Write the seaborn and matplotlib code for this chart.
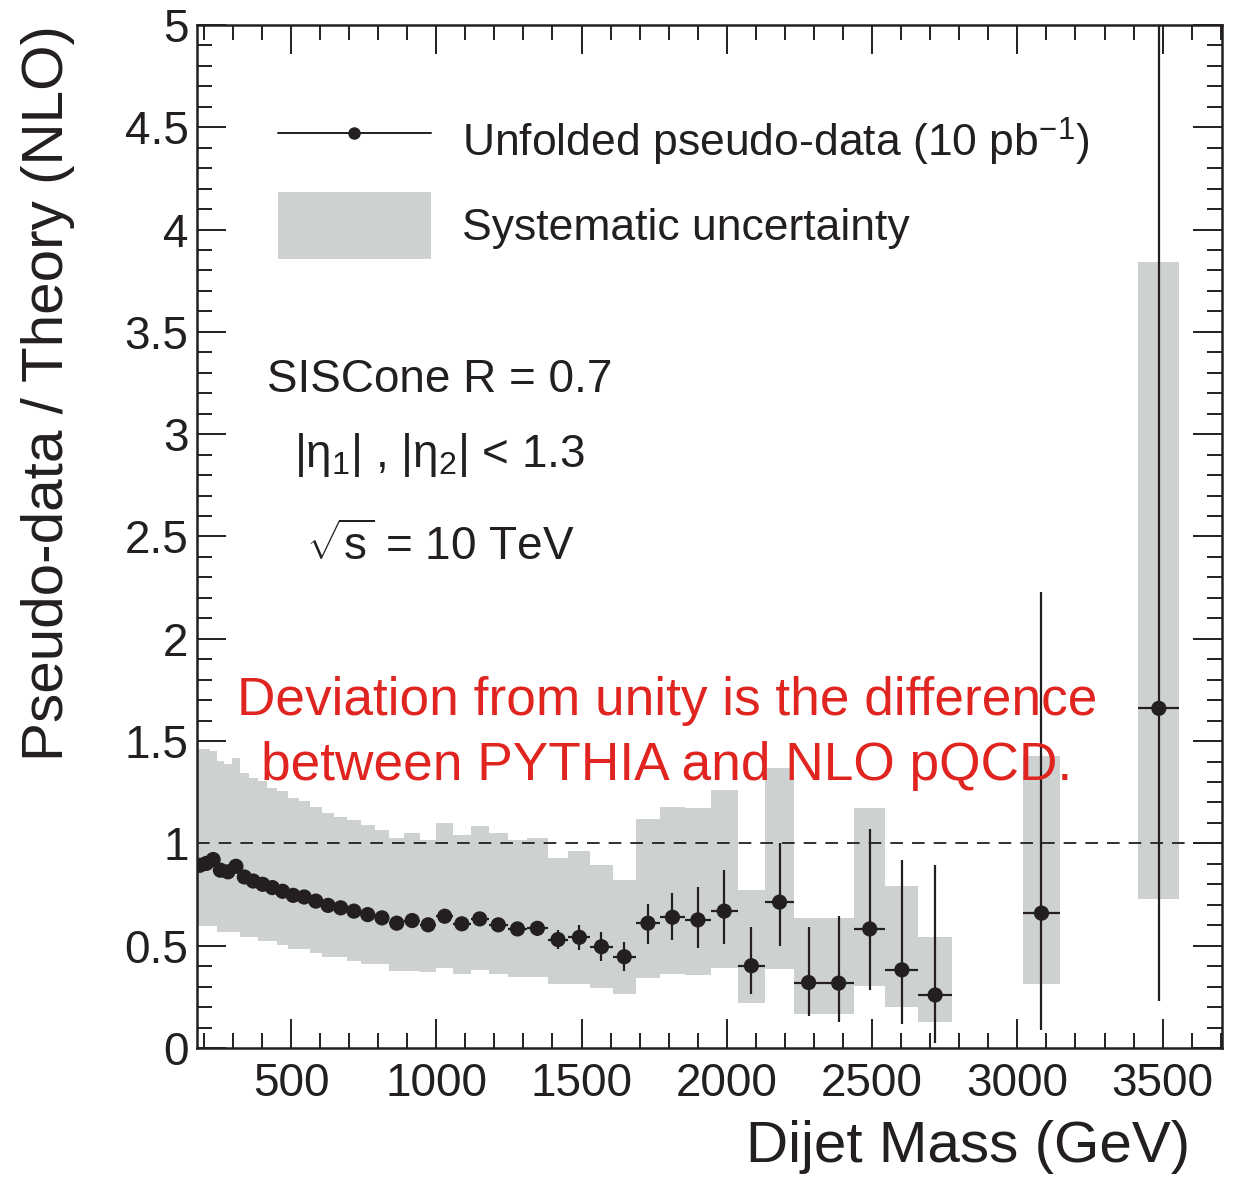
import numpy as np
import matplotlib
matplotlib.use("Agg")
import matplotlib.pyplot as plt
from matplotlib.ticker import MultipleLocator, FuncFormatter
from matplotlib.lines import Line2D
from matplotlib.patches import Patch
import seaborn as sns

# ---------------- data ----------------
bin_edges = [176, 197, 220, 244, 270, 296, 325, 354, 386, 419, 453, 489, 526, 565,
             606, 649, 693, 740, 788, 838, 890, 944, 1000, 1058, 1118, 1181, 1246,
             1313, 1383, 1455, 1530, 1607, 1687, 1770, 1856, 1945, 2037, 2132, 2231,
             2332, 2438, 2546, 2659, 2775, 2895, 3019, 3147, 3279, 3416, 3558, 3704]

nan = np.nan
ratio = [0.893, 0.902, 0.921, 0.869, 0.861, 0.888, 0.836, 0.816, 0.800, 0.784,
         0.766, 0.746, 0.738, 0.718, 0.697, 0.685, 0.669, 0.652, 0.636, 0.610,
         0.623, 0.602, 0.644, 0.607, 0.631, 0.602, 0.582, 0.585, 0.530, 0.541,
         0.495, 0.446, 0.610, 0.639, 0.626, 0.669, 0.402, 0.713, 0.320, 0.317,
         0.582, 0.382, 0.259, nan, nan, 0.659, nan, nan, 1.660, nan]

err_up = [0.01, 0.01, 0.01, 0.01, 0.01, 0.01, 0.01, 0.01, 0.01, 0.01,
          0.012, 0.012, 0.013, 0.013, 0.014, 0.014, 0.015, 0.015, 0.016, 0.016,
          0.02, 0.02, 0.02, 0.02, 0.022, 0.022, 0.025, 0.037, 0.047, 0.06,
          0.072, 0.071, 0.095, 0.118, 0.161, 0.203, 0.188, 0.287, 0.270, 0.326,
          0.487, 0.539, 0.634, nan, nan, 1.571, nan, nan, 3.6, nan]

err_down = [0.01, 0.01, 0.01, 0.01, 0.01, 0.01, 0.01, 0.01, 0.01, 0.01,
            0.012, 0.012, 0.013, 0.013, 0.014, 0.014, 0.015, 0.015, 0.016, 0.016,
            0.02, 0.02, 0.02, 0.02, 0.022, 0.022, 0.025, 0.037, 0.047, 0.06,
            0.072, 0.071, 0.102, 0.111, 0.137, 0.161, 0.140, 0.216, 0.164, 0.191,
            0.300, 0.267, 0.234, nan, nan, 0.569, nan, nan, 1.43, nan]

syst_high = [1.459, 1.459, 1.450, 1.401, 1.388, 1.418, 1.344, 1.320, 1.303, 1.270,
             1.254, 1.221, 1.205, 1.180, 1.147, 1.131, 1.115, 1.090, 1.065, 1.025,
             1.049, 1.016, 1.098, 1.041, 1.087, 1.049, 1.016, 1.028, 0.931, 0.964,
             0.893, 0.820, 1.118, 1.180, 1.172, 1.262, 0.770, 1.369, 0.634, 0.634,
             1.172, 0.790, 0.541, nan, nan, 1.429, nan, nan, 3.843, nan]

syst_low = [0.595, 0.595, 0.595, 0.569, 0.569, 0.569, 0.541, 0.541, 0.525, 0.525,
            0.503, 0.483, 0.483, 0.462, 0.443, 0.443, 0.426, 0.410, 0.410, 0.377,
            0.377, 0.369, 0.393, 0.364, 0.381, 0.364, 0.348, 0.348, 0.312, 0.312,
            0.295, 0.262, 0.344, 0.361, 0.356, 0.390, 0.221, 0.385, 0.167, 0.167,
            0.303, 0.200, 0.128, nan, nan, 0.315, nan, nan, 0.730, nan]

x_ticks_major = 500
y_ticks_major = 0.5
x_range = (176, 3704)
y_range = (0, 5)

legend_labels = ["Unfolded pseudo-data (10 pb$^{-1}$)", "Systematic uncertainty"]
x_label = "Dijet Mass (GeV)"
y_label = "Pseudo-data / Theory (NLO)"
note_lines = ["SISCone R = 0.7", r"$|\eta_1|$ , $|\eta_2|$ < 1.3", r"$\sqrt{s}$ = 10 TeV"]
red_lines = ["Deviation from unity is the difference", "between PYTHIA and NLO pQCD."]

# ---------------- style ----------------
sns.set_theme(style="ticks")
plt.rcParams["font.family"] = ["Liberation Sans", "DejaVu Sans"]
plt.rcParams["mathtext.fontset"] = "custom"
plt.rcParams["mathtext.rm"] = "Liberation Sans"
plt.rcParams["mathtext.it"] = "Liberation Sans"
plt.rcParams["mathtext.bf"] = "Liberation Sans:bold"

ink = "#231f20"
band_color = "#cdd1d2"
red = "#e02420"

edges = np.array(bin_edges, dtype=float)
lo = edges[:-1]
hi = edges[1:]
centers = 0.5 * (lo + hi)
halfw = 0.5 * (hi - lo)
ratio = np.array(ratio)
eu = np.array(err_up)
ed = np.array(err_down)
sh = np.array(syst_high)
sl = np.array(syst_low)

fig = plt.figure(figsize=(12.38, 11.77), dpi=100)
ax = fig.add_axes([0.159, 0.1096, 0.828, 0.8692])

# systematic band
bm = ~np.isnan(sh)
ax.bar(lo[bm], (sh - sl)[bm], width=(hi - lo)[bm], bottom=sl[bm], align="edge",
       color=band_color, linewidth=0, zorder=1)

# unity line
ax.axhline(1.0, color=ink, lw=1.3, ls=(0, (7, 5)), zorder=2)

# points with errors
pm = ~np.isnan(ratio)
ax.errorbar(centers[pm], ratio[pm], yerr=[ed[pm], eu[pm]], xerr=halfw[pm],
            fmt="none", ecolor=ink, elinewidth=1.6, capsize=0, zorder=3)
sns.scatterplot(x=centers[pm], y=ratio[pm], ax=ax, color=ink, s=120,
                edgecolor="none", zorder=4, legend=False)

ax.set_xlim(*x_range)
ax.set_ylim(*y_range)

ax.xaxis.set_major_locator(MultipleLocator(x_ticks_major))
ax.xaxis.set_minor_locator(MultipleLocator(100))
ax.yaxis.set_major_locator(MultipleLocator(y_ticks_major))
ax.yaxis.set_minor_locator(MultipleLocator(0.1))
ax.yaxis.set_major_formatter(FuncFormatter(lambda v, p: f"{v:g}"))

ax.tick_params(which="both", direction="in", top=True, right=True, color=ink,
               labelcolor=ink, labelsize=33)
ax.tick_params(which="major", length=21, width=1.4)
ax.tick_params(which="minor", length=10.5, width=1.4)
ax.tick_params(axis="x", which="major", pad=10)
ax.tick_params(axis="y", which="major", pad=6)
for sp in ax.spines.values():
    sp.set_linewidth(1.8)
    sp.set_color(ink)

ax.set_xlabel(x_label, fontsize=42, color=ink, ha="right")
ax.xaxis.set_label_coords(0.969, -0.070)
ax.set_ylabel(y_label, fontsize=42, color=ink, ha="right")
ax.yaxis.set_label_coords(-0.119, 1.0)

# legend
handles = [Line2D([], [], color=ink, lw=1.4, marker="o", ms=9, markeredgewidth=0),
           Patch(facecolor=band_color, edgecolor="none")]
ax.legend(handles, legend_labels, loc="upper left", bbox_to_anchor=(0.079, 0.918),
          frameon=False, fontsize=32.0, handlelength=3.45, handleheight=1.95,
          handletextpad=0.7, labelspacing=0.36, borderpad=0, borderaxespad=0,
          labelcolor=ink)

# annotations
note_y = [0.653, 0.580, 0.490]
for t, yy in zip(note_lines, note_y):
    ax.text(0.237, yy, t, transform=ax.transAxes, ha="center", va="center",
            fontsize=33, color=ink)

red_y = [0.339, 0.2757]
for t, yy in zip(red_lines, red_y):
    ax.text(0.4585, yy, t, transform=ax.transAxes, ha="center", va="center",
            fontsize=38.3, color=red, zorder=5)

fig.savefig("out.png", dpi=100)
